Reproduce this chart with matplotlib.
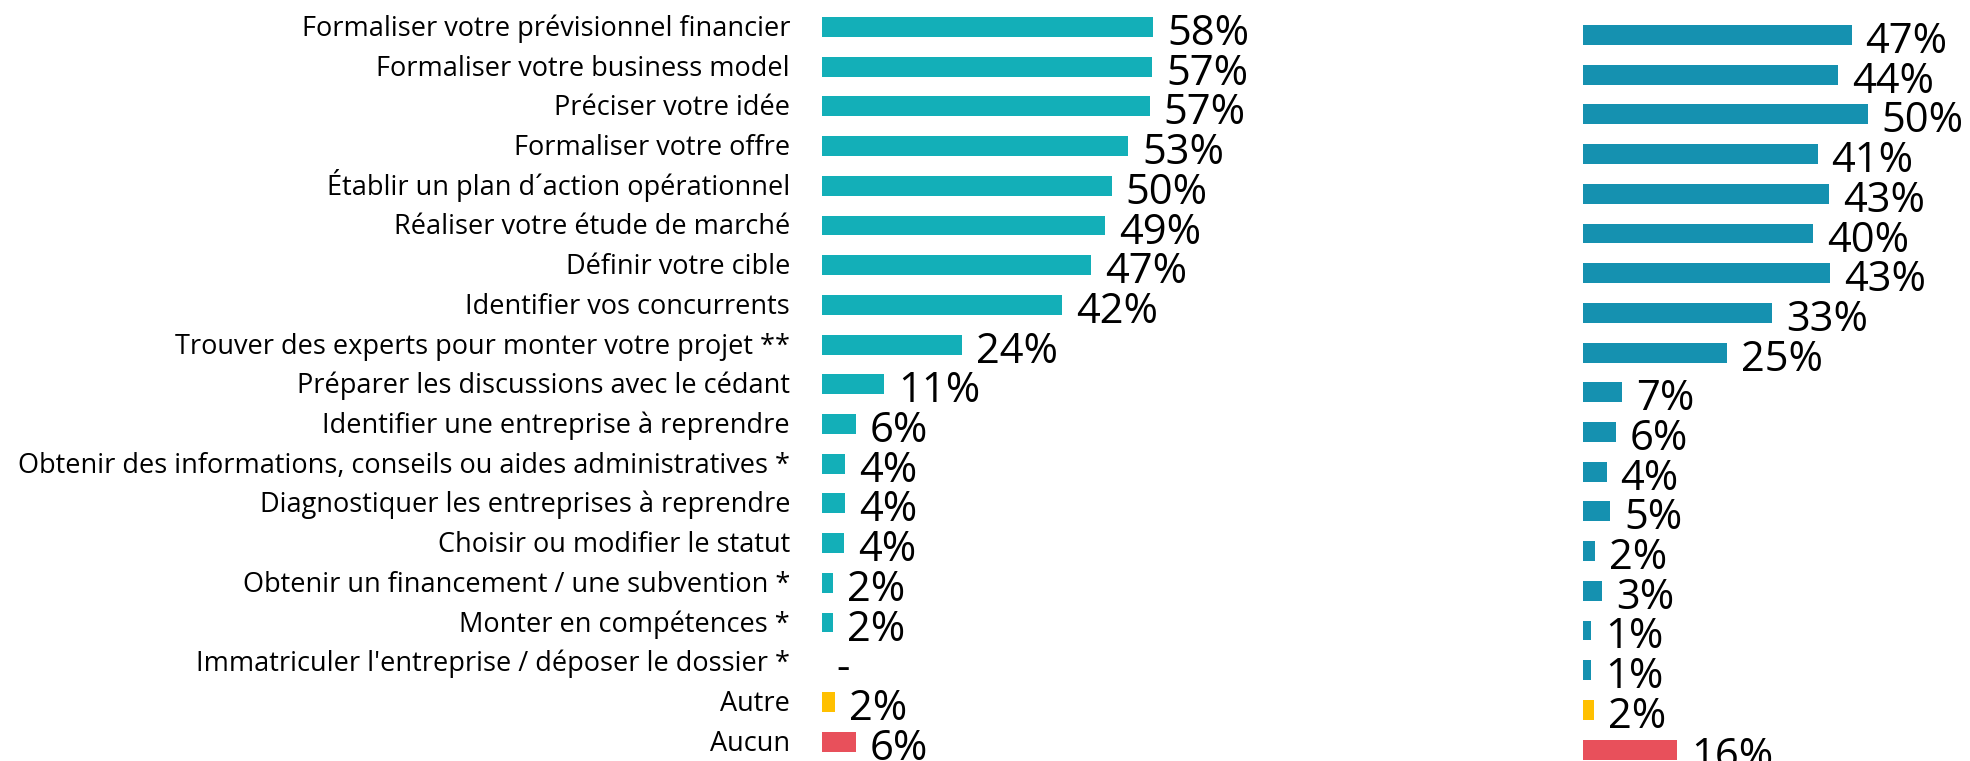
import matplotlib.pyplot as plt

plt.rcParams['font.family'] = ['Open Sans', 'DejaVu Sans']

categories = [
    "Formaliser votre prévisionnel financier",
    "Formaliser votre business model",
    "Préciser votre idée",
    "Formaliser votre offre",
    "Établir un plan d´action opérationnel",
    "Réaliser votre étude de marché",
    "Définir votre cible",
    "Identifier vos concurrents",
    "Trouver des experts pour monter votre projet **",
    "Préparer les discussions avec le cédant",
    "Identifier une entreprise à reprendre",
    "Obtenir des informations, conseils ou aides administratives *",
    "Diagnostiquer les entreprises à reprendre",
    "Choisir ou modifier le statut",
    "Obtenir un financement / une subvention *",
    "Monter en compétences *",
    "Immatriculer l'entreprise / déposer le dossier *",
    "Autre",
    "Aucun",
]

# left panel (None = no answer, shown as "-")
values_left = [57.6, 57.4, 57.0, 53.2, 50.4, 49.2, 46.8, 41.7, 24.3, 10.8,
               5.9, 4.0, 4.0, 3.8, 1.9, 1.9, None, 2.2, 5.9]
# right panel
values_right = [46.7, 44.4, 49.5, 40.8, 42.8, 40.0, 42.9, 32.9, 25.0, 6.8,
                5.7, 4.1, 4.7, 2.1, 3.3, 1.4, 1.4, 1.9, 16.4]

col_left = "#13afb8"
col_right = "#1591b0"
col_other = "#ffc000"
col_none = "#e8505b"

W, H = 1970, 761
fig = plt.figure(figsize=(W / 100, H / 100), dpi=100)

px_per_unit = 5.75
span = 60
row_px = 39.7
n = len(categories)


def make_axes(x0, top_px):
    ax = fig.add_axes([x0 / W, 0, span * px_per_unit / W, 1])
    a = -top_px / row_px
    ax.set_ylim(a + H / row_px, a)
    ax.set_xlim(0, span)
    ax.axis('off')
    return ax


def draw_panel(ax, values, main_color):
    colors = [main_color] * (n - 2) + [col_other, col_none]
    ys = list(range(n))
    widths = [v if v is not None else 0 for v in values]
    ax.barh(ys, widths, height=0.5, color=colors)
    for y, v in zip(ys, values):
        txt = "-" if v is None else f"{round(v):d}%"
        ax.annotate(txt, xy=(v or 0, y), xytext=(14, -18),
                    textcoords='offset pixels', ha='left', va='baseline',
                    fontsize=30, color='black', annotation_clip=False)


ax1 = make_axes(822, 27)
draw_panel(ax1, values_left, col_left)
for i, lab in enumerate(categories):
    ax1.annotate(lab, xy=(0, i), xytext=(-32, -9), textcoords='offset pixels',
                 ha='right', va='baseline', fontsize=19.5, color='black',
                 annotation_clip=False)

ax2 = make_axes(1583, 35)
draw_panel(ax2, values_right, col_right)

fig.savefig("out.png", dpi=100)
